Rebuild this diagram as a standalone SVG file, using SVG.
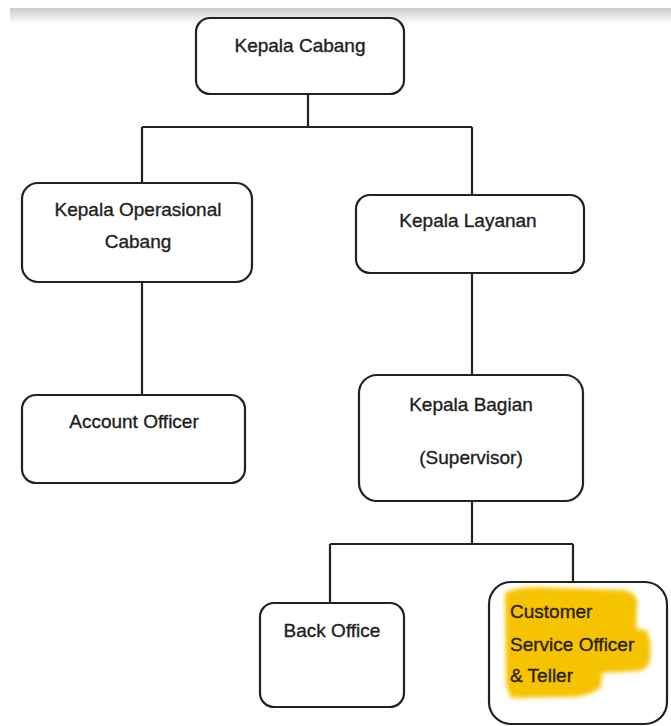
<svg xmlns="http://www.w3.org/2000/svg" width="671" height="726" viewBox="0 0 671 726">
<defs>
<linearGradient id="topband" x1="0" y1="0" x2="0" y2="1">
<stop offset="0" stop-color="#c8c8c8"/>
<stop offset="1" stop-color="#ffffff"/>
</linearGradient>
<filter id="soft" x="-10%" y="-10%" width="120%" height="120%">
<feGaussianBlur stdDeviation="2"/>
</filter>
<style>
.box{fill:#ffffff;stroke:#222222;stroke-width:2.2}
.lbl{font-family:"Liberation Sans",Arial,sans-serif;font-size:19px;fill:#1e1e1e;stroke:#1e1e1e;stroke-width:0.35;text-anchor:middle}
.lft{text-anchor:start;fill:#2a2100;stroke:#2a2100}
.conn{fill:none;stroke:#222222;stroke-width:2.2}
</style>
</defs>
<rect x="0" y="0" width="671" height="726" fill="#ffffff"/>
<rect x="10" y="8" width="661" height="15" fill="url(#topband)"/>

<g id="connectors">
<path class="conn" d="M308,94 V127 M142,127 H472 M142,127 V183 M472,127 V195"/>
<path class="conn" d="M142,282 V395"/>
<path class="conn" d="M472,273 V375"/>
<path class="conn" d="M472,501 V544 M330,544 H573 M330,544 V603 M573,544 V582"/>
</g>

<g id="kepala-cabang">
<rect class="box" x="196" y="18" width="208" height="76" rx="14"/>
<text class="lbl" x="300" y="52">Kepala Cabang</text>
</g>

<g id="kepala-operasional-cabang">
<rect class="box" x="22" y="183" width="230" height="99" rx="16"/>
<text class="lbl" x="138" y="216">Kepala Operasional</text>
<text class="lbl" x="138" y="248">Cabang</text>
</g>

<g id="kepala-layanan">
<rect class="box" x="356" y="195" width="228" height="78" rx="14"/>
<text class="lbl" x="468" y="227">Kepala Layanan</text>
</g>

<g id="account-officer">
<rect class="box" x="22" y="395" width="223" height="88" rx="14"/>
<text class="lbl" x="134" y="428">Account Officer</text>
</g>

<g id="kepala-bagian">
<rect class="box" x="359" y="375" width="224" height="126" rx="18"/>
<text class="lbl" x="471" y="411">Kepala Bagian</text>
<text class="lbl" x="471" y="464">(Supervisor)</text>
</g>

<g id="back-office">
<rect class="box" x="260" y="603" width="144" height="104" rx="14"/>
<text class="lbl" x="332" y="637">Back Office</text>
</g>

<g id="customer-service-officer-teller">
<rect class="box" x="489" y="582" width="178" height="142" rx="22"/>
<path d="M505,593 Q518,585 560,588 L624,590 Q639,593 637,607 L636,628 L647,631 Q652,642 650,660 Q648,670 638,671 L602,673 L601,686 Q592,698 560,697 L512,698 Q505,690 506,670 Z" fill="#f6c300" filter="url(#soft)"/>
<text class="lbl lft" x="510" y="618">Customer</text>
<text class="lbl lft" x="510" y="651">Service Officer</text>
<text class="lbl lft" x="510" y="682">&amp; Teller</text>
</g>
</svg>
